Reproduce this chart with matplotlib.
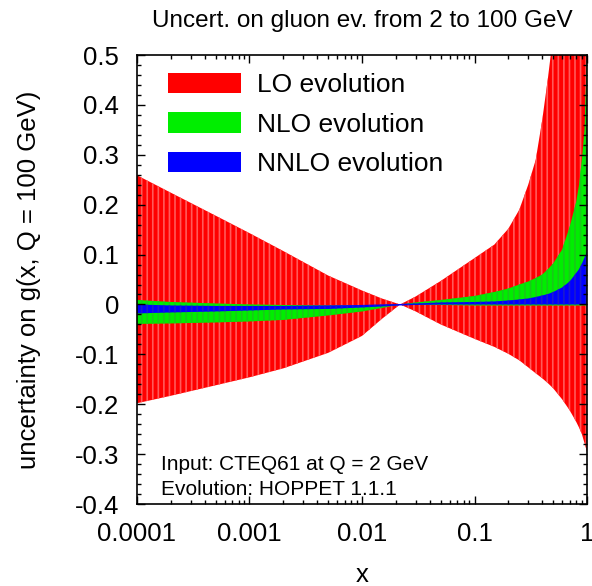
import matplotlib
matplotlib.use("Agg")
import matplotlib.pyplot as plt
import matplotlib.patches as mpatches
from matplotlib.ticker import FixedLocator, FuncFormatter, LogLocator, MultipleLocator, NullFormatter
import numpy as np

plt.rcParams['font.family'] = ['Liberation Sans', 'DejaVu Sans']
plt.rcParams['axes.unicode_minus'] = False
plt.rcParams['hatch.linewidth'] = 1.2

# x grid (log axis)
x = [1e-4, 2e-4, 5e-4, 1e-3, 2e-3, 5e-3, 0.01, 0.015, 0.0218, 0.03, 0.05, 0.1,
     0.15, 0.2, 0.25, 0.3, 0.35, 0.4, 0.45, 0.5, 0.6, 0.7,
     0.8, 0.85, 0.9, 0.95, 1.0]

# LO band edges
lo_a = [0.259, 0.224, 0.178, 0.143, 0.107, 0.058, 0.028, 0.012, 0.0, -0.014, -0.040, -0.069,
        -0.085, -0.099, -0.112, -0.126, -0.138, -0.148, -0.158, -0.168, -0.190, -0.212,
        -0.235, -0.247, -0.260, -0.278, -0.295]
lo_b = [-0.198, -0.183, -0.162, -0.146, -0.128, -0.097, -0.063, -0.029, 0.0, 0.016, 0.047, 0.093,
        0.120, 0.152, 0.190, 0.240, 0.290, 0.370, 0.455, 0.540, 0.720, 0.900,
        1.050, 1.120, 1.200, 1.280, 1.350]

# NLO band edges
nlo_up = [0.009, 0.005, 0.002, 0.0, -0.001, -0.002, -0.002, -0.001, 0.0, 0.004, 0.009, 0.017,
          0.025, 0.032, 0.040, 0.046, 0.053, 0.060, 0.071, 0.082, 0.110, 0.155,
          0.205, 0.240, 0.290, 0.350, 0.500]
nlo_lo = [-0.039, -0.038, -0.036, -0.034, -0.031, -0.022, -0.014, -0.007, 0.0, -0.001, -0.001, -0.002,
          -0.002, -0.002, -0.002, -0.002, -0.002, -0.002, -0.002, -0.002, -0.002, -0.002,
          -0.002, -0.002, -0.002, -0.002, -0.002]

# NNLO band edges
nnlo_up = [0.0, -0.002, -0.003, -0.003, -0.003, -0.002, -0.001, 0.0, 0.001, 0.002, 0.004, 0.005,
           0.006, 0.008, 0.010, 0.012, 0.015, 0.018, 0.021, 0.025, 0.034, 0.046,
           0.063, 0.071, 0.082, 0.094, 0.105]
nnlo_lo = [-0.018, -0.016, -0.014, -0.012, -0.010, -0.009, -0.006, -0.004, -0.002, -0.001, 0.0, 0.0,
           0.0, 0.0, 0.0, 0.0, 0.0, 0.0, 0.0, 0.0, 0.0, 0.0,
           0.0, 0.0, 0.0, 0.0, 0.0]

labels = ['LO evolution', 'NLO evolution', 'NNLO evolution']
x_ticks = [1e-4, 1e-3, 1e-2, 1e-1, 1]
x_ticklabels = ['0.0001', '0.001', '0.01', '0.1', '1']

fig = plt.figure(figsize=(5.92, 5.86), dpi=100)
ax = fig.add_axes([0.2314, 0.1399, 0.7602, 0.7662])

ax.fill_between(x, lo_a, lo_b, facecolor='#ff0000', edgecolor='#ff5a5a',
                hatch='|||', linewidth=0)
ax.fill_between(x, nlo_lo, nlo_up, facecolor='#00ee00', edgecolor='#19c819',
                hatch='|||', linewidth=0)
ax.fill_between(x, nnlo_lo, nnlo_up, facecolor='#0000ff', edgecolor='#1a1ad0',
                hatch='|||', linewidth=0)

ax.set_xscale('log')
ax.set_xlim(1e-4, 1)
ax.set_ylim(-0.4, 0.5)

ax.xaxis.set_major_locator(FixedLocator(x_ticks))
ax.set_xticklabels(x_ticklabels)
ax.xaxis.set_minor_locator(LogLocator(base=10, subs=np.arange(2, 10)))
ax.xaxis.set_minor_formatter(NullFormatter())
ax.yaxis.set_major_locator(MultipleLocator(0.1))
ax.yaxis.set_minor_locator(MultipleLocator(0.02))
ax.yaxis.set_major_formatter(FuncFormatter(lambda v, p: '%g' % round(v, 2)))

ax.tick_params(which='both', direction='in', top=True, right=True, width=1.0,
               labelsize=18.5, pad=13)
ax.tick_params(which='major', length=6)
ax.tick_params(which='minor', length=3)
for s in ax.spines.values():
    s.set_linewidth(1.2)

ax.set_xlabel('x', fontsize=18.5, labelpad=12)
ax.set_ylabel('uncertainty on g(x, Q = 100 GeV)', fontsize=18.5, labelpad=24)
ax.set_title('Uncert. on gluon ev. from 2 to 100 GeV', fontsize=17.5, pad=20)

handles = [mpatches.Patch(facecolor=c, edgecolor='none', label=l)
           for c, l in zip(['#ff0000', '#00ee00', '#0000ff'], labels)]
ax.legend(handles=handles, loc='upper left', frameon=False, fontsize=19,
          handlelength=2.77, handleheight=0.83, handletextpad=0.6,
          labelspacing=0.57, borderpad=0.0, borderaxespad=0.0,
          bbox_to_anchor=(0.069, 0.961))

ax.text(0.053, 0.089, 'Input: CTEQ61 at Q = 2 GeV', transform=ax.transAxes,
        fontsize=15, va='center', ha='left')
ax.text(0.053, 0.033, 'Evolution: HOPPET 1.1.1', transform=ax.transAxes,
        fontsize=15, va='center', ha='left')

fig.savefig('out.png', dpi=100)
